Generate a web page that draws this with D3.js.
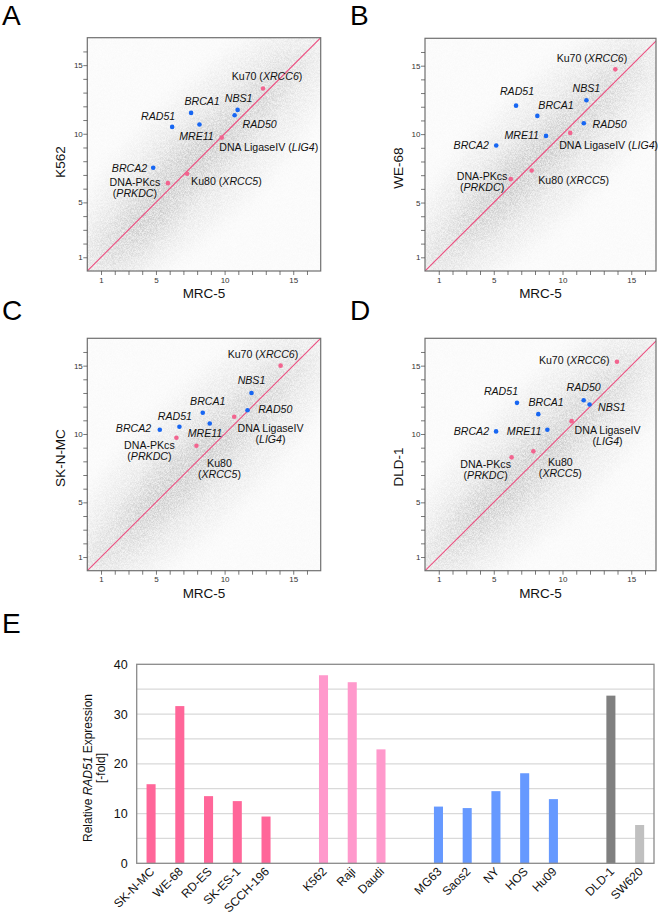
<!DOCTYPE html>
<html><head><meta charset="utf-8">
<script src="https://cdn.jsdelivr.net/npm/d3@7/dist/d3.min.js"></script>
<style>
body{margin:0;background:#fff}
svg{display:block;font-family:'Liberation Sans',Arial,Helvetica,sans-serif}
</style>
</head><body>
<svg id="c" width="660" height="924"></svg>
<script>
// ---------------- DATA ----------------
const genes = ["Ku70","NBS1","RAD50","BRCA1","MRE11","RAD51","LIG4","BRCA2","Ku80","PRKDC"];
const genePathway = ["NHEJ","HR","HR","HR","HR","HR","NHEJ","HR","NHEJ","NHEJ"];
const labelOne = {
  Ku70:[["Ku70 (",0],["XRCC6",1],[")",0]], NBS1:[["NBS1",1]], RAD50:[["RAD50",1]], BRCA1:[["BRCA1",1]],
  MRE11:[["MRE11",1]], RAD51:[["RAD51",1]], LIG4:[["DNA LigaseIV (",0],["LIG4",1],[")",0]],
  BRCA2:[["BRCA2",1]], Ku80:[["Ku80 (",0],["XRCC5",1],[")",0]], PRKDC:[["DNA-PKcs",0]]
};
const labelTwo = {
  LIG4:[[["DNA LigaseIV",0]],[["(",0],["LIG4",1],[")",0]]],
  Ku80:[[["Ku80",0]],[["(",0],["XRCC5",1],[")",0]]],
  PRKDC:[[["DNA-PKcs",0]],[["(",0],["PRKDC",1],[")",0]]]
};
const panelNames = ["A","B","C","D"];
const panelYTitles = ["K562","WE-68","SK-N-MC","DLD-1"];
const xTitle = "MRC-5";
const scatterTicks = [1,5,10,15];
const mrc5A = [12.8,10.95,10.73,7.56,8.17,6.18,9.79,4.8,7.27,5.87];
const k562  = [13.3,11.74,11.35,11.52,10.67,10.5,9.72,7.52,7.09,6.4];
const mrc5B = [13.84,11.74,11.55,8.17,8.8,6.62,10.56,5.18,7.76,6.24];
const we68  = [14.73,12.47,10.79,11.33,9.87,12.08,10.09,9.17,7.34,6.71];
const mrc5C = [14.08,11.96,11.67,8.41,8.92,6.71,10.7,5.28,7.95,6.49];
const sknmc = [15.0,13.0,11.74,11.55,10.77,10.53,11.26,10.31,9.14,9.73];
const mrc5D = [13.96,11.97,11.54,8.24,8.9,6.69,10.66,5.17,7.88,6.3];
const dld1  = [15.29,12.16,12.47,11.45,10.31,12.28,10.94,10.19,8.73,8.29];
// background probe cloud, described as density blobs [cx, cy, halfAlong (x-units), halfAcross (|x-y| units), weight]
const cloudCommon = [[8.5,8.5,10,6,0.16],[8,8,8,3,0.22],[6.5,6.5,4,1.6,0.22],[11,11,3,1.4,0.18]];
const cloudExtra = [[[4,2.8,2.5,2.2,0.14],[7,8.2,2.5,2.2,0.1]],[[6,6.5,2.5,2,0.1]],[[6.5,7,3,2,0.08]],[[5,5.5,3,2,0.08]]];

const cellLines = ["SK-N-MC","WE-68","RD-ES","SK-ES-1","SCCH-196","K562","Raji","Daudi","MG63","Saos2","NY","HOS","Hu09","DLD-1","SW620"];
const rad51Fold = [15.9,31.6,13.5,12.5,9.4,37.8,36.4,22.9,11.4,11.1,14.5,18.1,12.9,33.7,7.7];
const cellGroup = ["ewing","ewing","ewing","ewing","ewing","leuk","leuk","leuk","osteo","osteo","osteo","osteo","osteo","dld","sw"];
const barTicks = [0,10,20,30,40];

// ---------------- LAYOUT / STYLE ----------------
const hrColor = "#1766f2", nhejColor = "#f2648f", diagColor = "#ec4f80";
const groupColor = {ewing:"#ff6699", leuk:"#ff99cc", osteo:"#6699ff", dld:"#808080", sw:"#c0c0c0"};
const panelBoxes = [
  {x:87.3,y:37.7,w:233.4,h:233.3,xmax:17,ymax:17,letter:[2,25],ytitle:[65,162]},
  {x:425,y:38.3,w:231,h:232.7,xmax:16.8,ymax:17,letter:[350,25],ytitle:[403,168]},
  {x:87.3,y:338.3,w:233.4,h:232.4,xmax:17,ymax:17,letter:[2,320],ytitle:[65,458]},
  {x:425,y:338.3,w:231,h:232.4,xmax:16.8,ymax:17,letter:[350,320],ytitle:[403,467]}
];
const labelLayout = [
  {Ku70:["middle",4,-8,1],NBS1:["middle",1,-8,1],RAD50:["start",8,12.5,1],BRCA1:["middle",11,-8,1],MRE11:["middle",-3,15,1],RAD51:["middle",-14,-7,1],LIG4:["start",-2.4,13,1],BRCA2:["end",-6,4,1],Ku80:["start",4,11,1],PRKDC:["middle",-33,2.5,2]},
  {Ku70:["end",12,-7,1],NBS1:["middle",0,-8,1],RAD50:["start",8.7,4.7,1],BRCA1:["start",1,-7.3,1],MRE11:["end",-7,3.5,1],RAD51:["middle",1,-10.7,1],LIG4:["start",-11,16,1],BRCA2:["end",-7.3,3.3,1],Ku80:["start",6.6,13.8,1],PRKDC:["middle",-28.7,1.2,2]},
  {Ku70:["end",17.7,-7.7,1],NBS1:["middle",0,-9,1],RAD50:["start",10.7,3,1],BRCA1:["middle",5,-8.3,1],MRE11:["middle",-4.8,13.3,1],RAD51:["middle",-4.5,-7,1],LIG4:["middle",36.3,15,2],BRCA2:["end",-8.6,2,1],Ku80:["middle",23,21,2],PRKDC:["middle",-27,11,2]},
  {Ku70:["end",-7.4,2.3,1],NBS1:["start",8.4,6.3,1],RAD50:["middle",0,-9.3,1],BRCA1:["middle",7.8,-7.8,1],MRE11:["end",-6,5,1],RAD51:["middle",-16,-8,1],LIG4:["middle",36,12.7,2],BRCA2:["end",-7,3.3,1],Ku80:["middle",27,14.3,2],PRKDC:["middle",-26,10.8,2]}
];

const svg = d3.select("#c");
const defs = svg.append("defs");
const flt = defs.append("filter").attr("id","cloud").attr("x","-30%").attr("y","-30%").attr("width","160%").attr("height","160%")
  .attr("color-interpolation-filters","sRGB");
flt.append("feGaussianBlur").attr("in","SourceAlpha").attr("stdDeviation",10).attr("result","d");
flt.append("feTurbulence").attr("type","fractalNoise").attr("baseFrequency",2.4).attr("numOctaves",1).attr("seed",11).attr("result","n");
flt.append("feColorMatrix").attr("in","n").attr("type","matrix")
  .attr("values","0 0 0 0 0  0 0 0 0 0  0 0 0 0 0  2.2 0 0 0 -0.6").attr("result","na");
flt.append("feComposite").attr("in","d").attr("in2","na").attr("operator","arithmetic")
  .attr("k1",0.7).attr("k2",0.32).attr("k3",0.04).attr("k4",0.02).attr("result","g");
flt.append("feFlood").attr("flood-color","#a2a2a2");
flt.append("feComposite").attr("in2","g").attr("operator","in");

const xsData = [mrc5A,mrc5B,mrc5C,mrc5D];
const ysData = [k562,we68,sknmc,dld1];

panelBoxes.forEach((b,pi)=>{
  const x = d3.scaleLinear().domain([0,b.xmax]).range([b.x,b.x+b.w]);
  const y = d3.scaleLinear().domain([0,b.ymax]).range([b.y+b.h,b.y]);
  const g = svg.append("g");
  const cid = "clip"+pi;
  defs.append("clipPath").attr("id",cid).append("rect").attr("x",b.x).attr("y",b.y).attr("width",b.w).attr("height",b.h);
  const clipG = g.append("g").attr("clip-path",`url(#${cid})`);
  const cg = clipG.append("g").attr("filter","url(#cloud)");
  cg.append("rect").attr("x",b.x-30).attr("y",b.y-30).attr("width",b.w+60).attr("height",b.h+60).attr("fill","#000").attr("fill-opacity",0.002);
  const blobs = cloudCommon.concat(cloudExtra[pi]);
  const ux = x(1)-x(0);
  blobs.forEach(bl=>{
    cg.append("ellipse").attr("cx",0).attr("cy",0)
      .attr("rx",bl[2]*Math.SQRT2*ux).attr("ry",bl[3]*ux/Math.SQRT2)
      .attr("transform",`translate(${x(bl[0])},${y(bl[1])}) rotate(-45)`)
      .attr("fill","#000").attr("fill-opacity",bl[4]);
  });
  clipG.append("line").attr("x1",x(0)).attr("y1",y(0)).attr("x2",x(18)).attr("y2",y(18))
    .attr("stroke",diagColor).attr("stroke-width",1.1);
  g.append("rect").attr("x",b.x).attr("y",b.y).attr("width",b.w).attr("height",b.h)
    .attr("fill","none").attr("stroke","#6f6f6f").attr("stroke-width",1.2);
  const minor = d3.range(1,17);
  const xa = d3.axisBottom(x).tickValues(minor).tickSize(4).tickFormat(d=>scatterTicks.includes(d)?d:"");
  const ya = d3.axisLeft(y).tickValues(minor).tickSize(4).tickFormat(d=>scatterTicks.includes(d)?d:"");
  const gx = g.append("g").attr("transform",`translate(0,${b.y+b.h})`).call(xa);
  const gy = g.append("g").attr("transform",`translate(${b.x},0)`).call(ya);
  [gx,gy].forEach(a=>{
    a.select(".domain").remove();
    a.selectAll(".tick line").attr("stroke","#555").attr("stroke-width",0.8);
    a.selectAll(".tick text").attr("font-size",8).attr("fill","#333").attr("font-family","'Liberation Sans',Arial,sans-serif");
  });
  gx.selectAll(".tick text").attr("dy","0.95em").attr("y",4);
  gy.selectAll(".tick text").attr("x",-4.5);
  g.append("text").attr("x",b.x+b.w/2).attr("y",b.y+b.h+27).attr("text-anchor","middle")
    .attr("font-size",13.5).attr("fill","#111").text(xTitle);
  g.append("text").attr("transform",`translate(${b.ytitle[0]},${b.ytitle[1]}) rotate(-90)`).attr("text-anchor","middle")
    .attr("font-size",13.5).attr("fill","#111").text(panelYTitles[pi]);
  g.append("text").attr("x",b.letter[0]).attr("y",b.letter[1]).attr("font-size",28).attr("fill","#000").text(panelNames[pi]);
  const xs = xsData[pi], ys = ysData[pi];
  genes.forEach((gn,i)=>{
    const px = x(xs[i]), py = y(ys[i]);
    g.append("circle").attr("cx",px).attr("cy",py).attr("r",2.3)
      .attr("fill",genePathway[i]==="HR"?hrColor:nhejColor);
    const L = labelLayout[pi][gn];
    const lines = L[3]===2 ? labelTwo[gn] : [labelOne[gn]];
    lines.forEach((segs,li)=>{
      const t = g.append("text").attr("x",px+L[1]).attr("y",py+L[2]+li*11)
        .attr("text-anchor",L[0]).attr("font-size",10.6).attr("fill","#111");
      segs.forEach(s=>t.append("tspan").attr("font-style",s[1]?"italic":"normal").text(s[0]));
    });
  });
});

// ---------------- PANEL E ----------------
const eBox = {x:136.7,y:664.3,w:517.3,h:199};
const slots = [];
cellLines.forEach((c,i)=>{
  if(i>0 && cellGroup[i]!==cellGroup[i-1] && cellGroup[i]!=="sw") slots.push("gap"+i);
  slots.push(c);
});
const xb = d3.scaleBand().domain(slots).range([eBox.x,eBox.x+eBox.w]).paddingInner(0.685).paddingOuter(0.3425);
const yb = d3.scaleLinear().domain([0,40]).range([eBox.y+eBox.h,eBox.y]);
const eg = svg.append("g");
eg.append("text").attr("x",2).attr("y",633).attr("font-size",28).attr("fill","#000").text("E");
eg.append("g").selectAll("line").data(d3.range(5,40,5)).join("line")
  .attr("x1",eBox.x).attr("x2",eBox.x+eBox.w).attr("y1",d=>yb(d)).attr("y2",d=>yb(d))
  .attr("stroke","#d9d9d9").attr("stroke-width",1.2);
eg.append("g").selectAll("rect").data(cellLines).join("rect")
  .attr("x",d=>xb(d)).attr("width",xb.bandwidth())
  .attr("y",(d,i)=>yb(rad51Fold[i])).attr("height",(d,i)=>yb(0)-yb(rad51Fold[i]))
  .attr("fill",(d,i)=>groupColor[cellGroup[i]]);
eg.append("rect").attr("x",eBox.x).attr("y",eBox.y).attr("width",eBox.w).attr("height",eBox.h)
  .attr("fill","none").attr("stroke","#8a8a8a").attr("stroke-width",1.3);
const yax = eg.append("g").attr("transform",`translate(${eBox.x},0)`)
  .call(d3.axisLeft(yb).tickValues(barTicks).tickSize(0).tickPadding(9));
yax.select(".domain").remove();
yax.selectAll("text").attr("font-size",12.5).attr("fill","#111").attr("font-family","'Liberation Sans',Arial,sans-serif");
const xax = eg.append("g").attr("transform",`translate(0,${eBox.y+eBox.h})`)
  .call(d3.axisBottom(xb).tickValues(cellLines).tickSize(0));
xax.select(".domain").remove();
xax.selectAll("text").attr("font-size",12).attr("fill","#111").attr("font-family","'Liberation Sans',Arial,sans-serif")
  .attr("text-anchor","end").attr("dy",0).attr("y",0)
  .attr("transform","translate(4,9) rotate(-45)");
const yt = eg.append("text").attr("transform",`translate(91.5,768) rotate(-90)`).attr("text-anchor","middle")
  .attr("font-size",12).attr("fill","#111");
yt.append("tspan").text("Relative ");
yt.append("tspan").attr("font-style","italic").text("RAD51");
yt.append("tspan").text(" Expression");
eg.append("text").attr("transform",`translate(105,768) rotate(-90)`).attr("text-anchor","middle")
  .attr("font-size",12).attr("fill","#111").text("[-fold]");
</script>
</body></html>
